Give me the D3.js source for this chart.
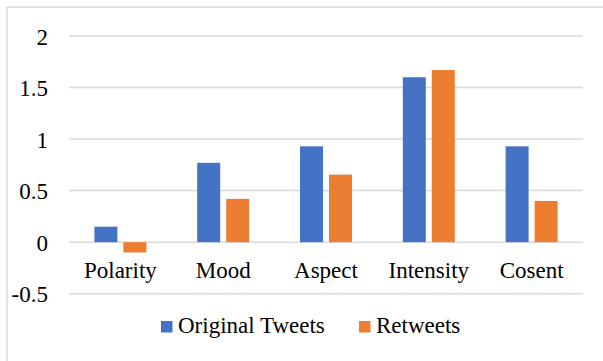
<!DOCTYPE html>
<html><head><meta charset="utf-8">
<script src="https://cdn.jsdelivr.net/npm/d3@7"></script>
<style>html,body{margin:0;padding:0;background:#fff;}</style>
</head><body>
<script>
const categories = ["Polarity", "Mood", "Aspect", "Intensity", "Cosent"];
const seriesNames = ["Original Tweets", "Retweets"];
const originalTweets = [0.15, 0.77, 0.93, 1.60, 0.93];
const retweets = [-0.10, 0.42, 0.655, 1.67, 0.40];
const tickValues = [-0.5, 0, 0.5, 1, 1.5, 2];
const colors = ["#4472c4", "#ed7d31"];

const W = 603, H = 361;
const FONT = '"Liberation Serif"';
const svg = d3.select("body").append("svg").attr("width", W).attr("height", H);

// frame (left and top visible)
svg.append("line").attr("x1", 7).attr("x2", 7).attr("y1", 7).attr("y2", H).attr("stroke", "#d9d9d9").attr("stroke-width", 1.5);
svg.append("line").attr("x1", 7).attr("x2", W).attr("y1", 7).attr("y2", 7).attr("stroke", "#d9d9d9").attr("stroke-width", 1.5);

const x0 = 69, x1 = 583;
const y = d3.scaleLinear().domain([-0.5, 2]).range([293.7, 36]);
const x = d3.scaleBand().domain(categories).range([x0, x1]).paddingInner(0).paddingOuter(0);

// gridlines
svg.append("g").selectAll("line").data(tickValues).join("line")
  .attr("x1", x0).attr("x2", x1)
  .attr("y1", d => y(d)).attr("y2", d => y(d))
  .attr("stroke", "#d9d9d9").attr("stroke-width", 1.5);

// y labels
const yAxis = d3.axisLeft(y).tickValues(tickValues).tickSize(0).tickPadding(0)
  .tickFormat(d => String(d));
const ya = svg.append("g").attr("transform", "translate(48,0)").call(yAxis);
ya.attr("font-family", null).attr("font-size", null);
ya.select(".domain").remove();
ya.selectAll("text").style("font-family", FONT).style("font-size", "23px").attr("fill", "#000").attr("dy", "0.35em");

const barW = 23, gap = 6;
const data = categories.map((c, i) => ({c, vals: [originalTweets[i], retweets[i]]}));
const g = svg.append("g");
data.forEach(d => {
  const cx = x(d.c) + x.bandwidth() / 2;
  d.vals.forEach((v, j) => {
    const left = j === 0 ? cx - gap / 2 - barW : cx + gap / 2;
    g.append("rect")
      .attr("x", left).attr("width", barW)
      .attr("y", Math.min(y(v), y(0)))
      .attr("height", Math.abs(y(v) - y(0)))
      .attr("fill", colors[j]);
  });
});

// category labels
const xAxis = d3.axisBottom(x).tickSize(0).tickPadding(0);
const xa = svg.append("g").call(xAxis);
xa.attr("font-family", null).attr("font-size", null);
xa.select(".domain").remove();
xa.selectAll("text").style("font-family", FONT).style("font-size", "23px").attr("fill", "#000")
  .attr("y", 278).attr("dy", 0);

// legend
const legendItems = [{x: 161, name: seriesNames[0], color: colors[0]}, {x: 359, name: seriesNames[1], color: colors[1]}];
legendItems.forEach(it => {
  svg.append("rect").attr("x", it.x).attr("y", 321).attr("width", 11.5).attr("height", 11.5).attr("fill", it.color);
  svg.append("text").attr("x", it.x + 17).attr("y", 332.5).style("font-family", FONT).style("font-size", "23px").attr("fill", "#000").text(it.name);
});
</script>
</body></html>
